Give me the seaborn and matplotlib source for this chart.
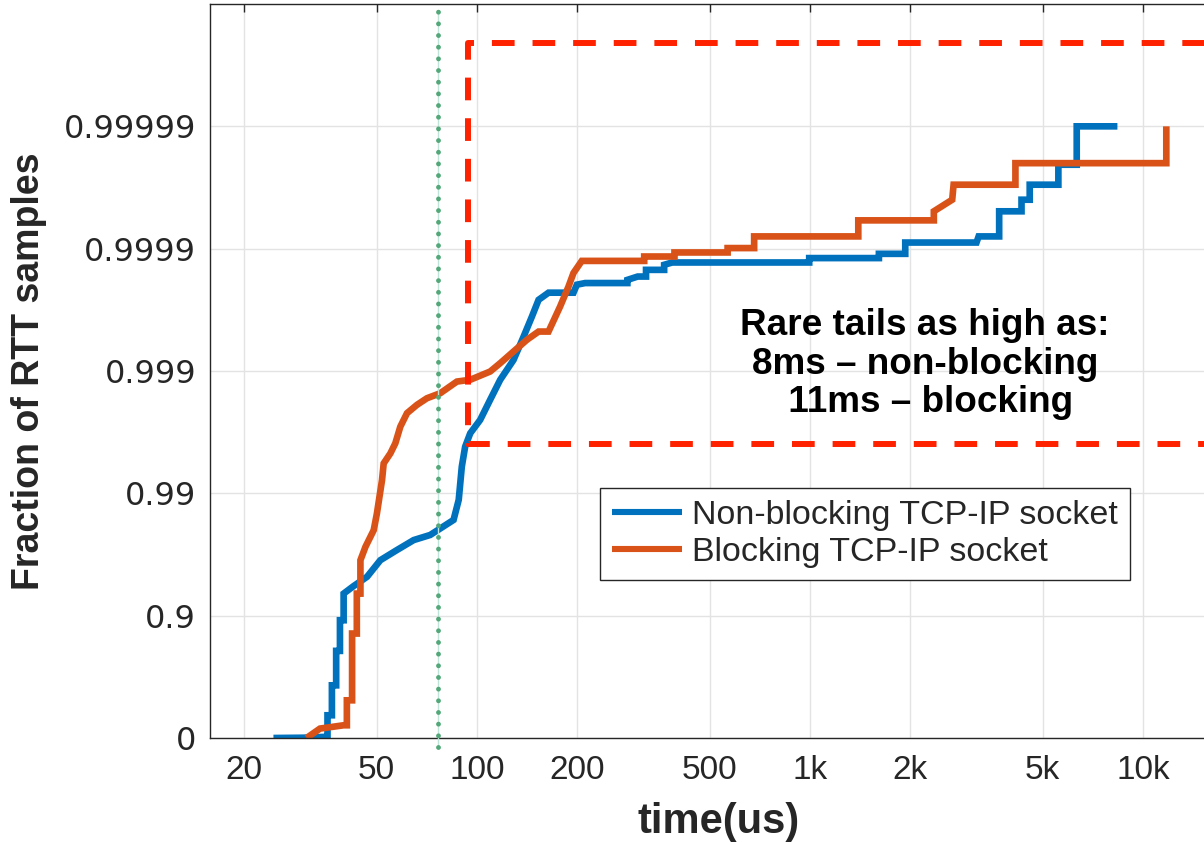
import numpy as np
import pandas as pd
import matplotlib
matplotlib.use("Agg")
import matplotlib.pyplot as plt
import seaborn as sns
from matplotlib.ticker import FixedLocator, FixedFormatter, NullLocator
from matplotlib.transforms import blended_transform_factory

# Empirical CDF of round-trip times, non-blocking socket (time in us, cumulative fraction)
nonblocking_us = [24.5, 30, 34.6, 35.6, 35.6, 36.7, 36.7, 37.8, 37.8, 38.8, 38.8, 39.8,
                  39.8, 42.6, 46.8, 51.3, 57.5, 64.6, 72.4, 77.6, 85.1, 88.2, 90.1, 92.2,
                  95.5, 102.3, 109.6, 117.5, 128.8, 138.1, 146.3, 153.2, 164.1, 195,
                  199.6, 211.4, 283, 283, 304, 322, 322, 365, 365, 386, 995, 995, 1611,
                  1611, 1933, 1933, 3163, 3210, 3700, 3700, 4318, 4318, 4570, 4570, 5571,
                  5571, 6325, 6325, 8380]
nonblocking_frac = [0.0, 0.005, 0.02, 0.02, 0.348, 0.348, 0.629, 0.629, 0.806, 0.806, 0.891,
                    0.891, 0.934, 0.9426, 0.9519, 0.9648, 0.9709, 0.9759, 0.9781, 0.9806,
                    0.9835, 0.9887, 0.99395, 0.99584, 0.99677, 0.99749, 0.99828, 0.99882,
                    0.999187, 0.999476, 0.999641, 0.999738, 0.999771, 0.999771, 0.999803,
                    0.999809, 0.999809, 0.99982, 0.999831, 0.999831, 0.999851, 0.999851,
                    0.9998645, 0.9998703, 0.9998703, 0.9998806, 0.9998806, 0.9998898,
                    0.9998898, 0.9999109, 0.9999109, 0.9999206, 0.9999206, 0.9999505,
                    0.9999505, 0.9999602, 0.9999602, 0.99997, 0.99997, 0.9999794,
                    0.9999794, 0.99999, 0.99999]

# Empirical CDF of round-trip times, blocking socket
blocking_us = [30.8, 33.8, 39.8, 40.7, 40.7, 42.2, 42.2, 43.6, 43.6, 44.7, 44.7, 46.3, 49.0,
               50.1, 51.9, 52.5, 55, 56.9, 58.9, 61.7, 66.1, 70.8, 77.6, 87.1, 95.5, 109.6,
               117.5, 128.8, 141.3, 153.2, 164.1, 177.8, 188.4, 195, 206.5, 318, 318, 392,
               392, 566, 566, 680, 680, 1397, 1397, 2355, 2355, 2674, 2700, 4140, 4140,
               11750, 11750]
blocking_frac = [0.0, 0.1625, 0.213, 0.213, 0.508, 0.508, 0.860, 0.860, 0.934, 0.934, 0.9648,
                 0.9727, 0.9800, 0.9854, 0.9922, 0.99431, 0.99529, 0.9961, 0.99715, 0.99779,
                 0.99811, 0.99833, 0.99848, 0.99878, 0.99882, 0.99899, 0.999137, 0.999307,
                 0.999444, 0.999524, 0.999524, 0.999703, 0.999796, 0.999842, 0.9998741,
                 0.9998741, 0.9998841, 0.9998841, 0.9998926, 0.9998926, 0.9999011, 0.9999011,
                 0.9999206, 0.9999206, 0.9999413, 0.9999413, 0.9999505, 0.9999602, 0.99997,
                 0.99997, 0.99998, 0.99998, 0.99999]

series_names = ["Non-blocking TCP-IP socket", "Blocking TCP-IP socket"]
series_colors = ["#0072BD", "#D95319"]

x_ticks = [20, 50, 100, 200, 500, 1000, 2000, 5000, 10000]
x_tick_labels = ["20", "50", "100", "200", "500", "1k", "2k", "5k", "10k"]
y_ticks = [0, 0.9, 0.99, 0.999, 0.9999, 0.99999]
y_tick_labels = ["0", "0.9", "0.99", "0.999", "0.9999", "0.99999"]

# Highlighted tail region and reference latency
tail_left_us = 94
tail_low_frac = 0.99605
tail_high_frac = 0.9999979
reference_us = 76.4

annotation = "Rare tails as high as:\n8ms \u2013 non-blocking\n 11ms \u2013 blocking"

df = pd.concat([
    pd.DataFrame({"time": nonblocking_us, "frac": nonblocking_frac, "socket": series_names[0]}),
    pd.DataFrame({"time": blocking_us, "frac": blocking_frac, "socket": series_names[1]}),
], ignore_index=True)

sns.set_theme(style="white")
plt.rcParams["font.family"] = ["Liberation Sans", "DejaVu Sans"]

fig = plt.figure(figsize=(12.04, 8.42), dpi=100)
ax = fig.add_axes([210 / 1204, 104 / 842, 1018 / 1204, 734 / 842])


def nines_fwd(p):
    p = np.asarray(p, dtype=float)
    return -np.log10(np.clip(1.0 - p, 1e-12, None))


def nines_inv(t):
    t = np.asarray(t, dtype=float)
    return 1.0 - 10.0 ** (-t)


ax.set_xscale("log")
ax.set_yscale("function", functions=(nines_fwd, nines_inv))

sns.lineplot(data=df, x="time", y="frac", hue="socket", hue_order=series_names,
             palette=series_colors, estimator=None, sort=False, lw=4.8, ax=ax,
             solid_joinstyle="miter", solid_capstyle="butt")

ax.set_xlim(15.8, 18000)
ax.set_ylim(0, 0.999999)

# Tail region outline
ax.plot([30000, tail_left_us, tail_left_us, 30000],
        [tail_high_frac, tail_high_frac, tail_low_frac, tail_low_frac],
        color="#FF2200", lw=4.3, linestyle=(0, (3.8, 3.0)), zorder=4)

# Reference latency marker
trans = blended_transform_factory(ax.transData, ax.transAxes)
ax.plot([reference_us, reference_us], [-0.012, 0.99], transform=trans, color="#BFE5D8",
        lw=1.0, clip_on=False, zorder=3)
ax.plot([reference_us, reference_us], [-0.012, 0.99], transform=trans, color="#52A878",
        lw=3.5, linestyle=(0, (0.001, 2.4)), dash_capstyle="round", clip_on=False, zorder=3)

ax.text(2218, 0.99912, annotation, ha="center", va="center", fontsize=26.6,
        fontweight="bold", linespacing=1.13, color="black", zorder=6)

ax.xaxis.set_major_locator(FixedLocator(x_ticks))
ax.xaxis.set_major_formatter(FixedFormatter(x_tick_labels))
ax.xaxis.set_minor_locator(NullLocator())
ax.yaxis.set_major_locator(FixedLocator(y_ticks))
ax.yaxis.set_major_formatter(FixedFormatter(y_tick_labels))
ax.yaxis.set_minor_locator(NullLocator())

ax.grid(True, which="major", color="#E3E3E3", lw=1.0)
ax.set_axisbelow(True)
for side in ["left", "bottom", "top", "right"]:
    ax.spines[side].set_visible(True)
    ax.spines[side].set_color("#262626")
    ax.spines[side].set_linewidth(1.0)

ax.tick_params(axis="both", which="major", direction="in", length=6, width=1.0,
               color="#262626", top=True, right=True, labelcolor="#262626")
ax.tick_params(axis="x", labelsize=24, pad=12)
ax.tick_params(axis="y", labelsize=23, pad=10)
for lbl in ax.get_yticklabels():
    lbl.set_family(["DejaVu Sans"])

ax.set_xlabel("time(us)", fontsize=30, fontweight="bold", color="#262626", labelpad=12)
ax.set_ylabel("Fraction of RTT samples", fontsize=27, fontweight="bold", color="#262626",
              labelpad=12)

handles, labels = ax.get_legend_handles_labels()
leg = ax.legend(handles, labels, loc="upper left", bbox_to_anchor=(0.383, 0.341),
                borderaxespad=0, fontsize=24.5, frameon=True, fancybox=False,
                framealpha=1, edgecolor="#262626", handlelength=2.05, handletextpad=0.3,
                labelspacing=0.18, borderpad=0.35)
leg.get_frame().set_linewidth(1.0)
for line in leg.get_lines():
    line.set_linewidth(4.4)

fig.savefig("out.png", dpi=100)
